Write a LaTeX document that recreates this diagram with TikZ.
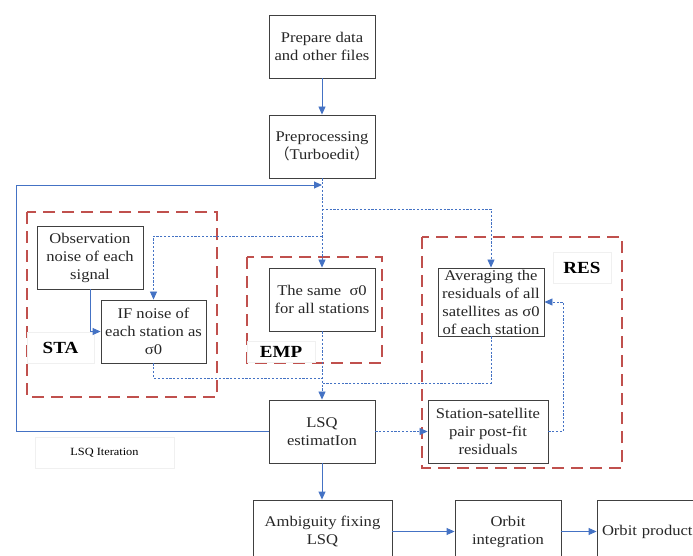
\documentclass[tikz,border=0pt]{standalone}
\usepackage{fontspec}
\setmainfont{Liberation Serif}[FakeStretch=1.12]
\newfontfamily\cjk{Noto Sans CJK SC}
\usetikzlibrary{arrows.meta}
\definecolor{lblue}{RGB}{68,114,196}
\definecolor{dred}{RGB}{192,80,77}
\definecolor{bgray}{RGB}{64,64,64}
\definecolor{tgray}{RGB}{38,38,38}
\begin{document}
\begin{tikzpicture}[x=1pt,y=-1pt,
 box/.style={draw=bgray,line width=0.9pt,inner sep=0pt,align=center,font=\fontsize{14.8}{18}\selectfont,text=tgray},
 solidarrow/.style={draw=lblue,line width=0.9pt,-{Triangle[length=8pt,width=7pt]}},
 dotarrow/.style={draw=lblue,line width=0.8pt,dash pattern=on 2.2pt off 1.6pt,-{Triangle[length=8pt,width=7pt]}},
 dotline/.style={draw=lblue,line width=0.8pt,dash pattern=on 2.2pt off 1.6pt},
 region/.style={draw=dred,line width=2.6pt,dash pattern=on 12pt off 7pt},
 tag/.style={fill=white,draw=gray!12,line width=0.4pt,inner sep=0pt,font=\fontsize{17}{20}\selectfont\bfseries,text=black}
]
\useasboundingbox (0,0) rectangle (693,556);
\clip (0,0) rectangle (693,556);

% regions
\draw[region] (27,212) rectangle (217,397);
\draw[region] (247,257) rectangle (382,363);
\draw[region] (422,237) rectangle (622,468);

% boxes
\node[box,minimum width=106pt,minimum height=63pt] (prep) at (322,46.5) {Prepare data\\and other files};
\node[box,minimum width=106pt,minimum height=63pt] (pre) at (322,146.5) {Preprocessing\\{\cjk （}Turboedit{\cjk ）}};
\node[box,minimum width=106pt,minimum height=63pt] (obs) at (90,257.5) {Observation\\noise of each\\signal};
\node[box,minimum width=105pt,minimum height=63pt] (ifn) at (153.5,331.5) {IF noise of\\each station as\\σ0};
\node[box,minimum width=106pt,minimum height=63pt] (same) at (322,299.5) {The same \ σ0\\for all stations};
\node[box,minimum width=106pt,minimum height=68pt] (avg) at (491,302) {Averaging the\\residuals of all\\satellites as σ0\\of each station};
\node[box,minimum width=106pt,minimum height=63pt] (lsq) at (322,431.5) {LSQ\\estimatIon};
\node[box,minimum width=120pt,minimum height=63pt] (sts) at (488,431.5) {Station-satellite\\pair post-fit\\residuals};
\node[box,minimum width=139pt,minimum height=63pt] (amb) at (322.5,531.5) {Ambiguity fixing\\LSQ};
\node[box,minimum width=106pt,minimum height=63pt] (orb) at (508,531.5) {Orbit\\integration};
\node[box,minimum width=106pt,minimum height=63pt,text width=96pt,align=left] (prod) at (650,531.5) {Orbit product};

% tags
\node[tag,minimum width=67pt,minimum height=31pt] (tsta) at (60.5,347.5) {STA};
\node[tag,minimum width=68pt,minimum height=21pt] (temp) at (281,351.5) {EMP};
\node[tag,minimum width=58pt,minimum height=31pt] (tres) at (582,267.5) {RES};
\node[tag,minimum width=139pt,minimum height=31pt,font=\fontsize{11}{13}\selectfont] (tlsq) at (104.5,452.5) {LSQ Iteration};

% coordinates
\coordinate (lpBL) at (16,431.5);
\coordinate (lpTL) at (16,185);
\coordinate (lpT) at (322,185);
\coordinate (br1) at (322,209);
\coordinate (br2) at (322,236);
\coordinate (j1) at (322,378);
\coordinate (j2) at (322,383);
\coordinate (rr) at (563,302);

% solid connectors
\draw[solidarrow] (prep.south) -- (pre.north);
\draw[solidarrow] (lsq.west) -- (lpBL) -- (lpTL) -- (lpT);
\draw[solidarrow] (obs.south) |- (ifn.west);
\draw[solidarrow] (lsq.south) -- (lsq.south |- amb.north);
\draw[solidarrow] (amb.east) -- (orb.west);
\draw[solidarrow] (orb.east) -- (prod.west);

% dotted connectors
\draw[dotarrow] (pre.south) -- (same.north);
\draw[dotarrow] (br1) -| (avg.north);
\draw[dotarrow] (br2) -| (ifn.north);
\draw[dotline] (ifn.south) |- (j1);
\draw[dotline] (avg.south) |- (j2);
\draw[dotarrow] (same.south) -- (lsq.north);
\draw[dotarrow] (lsq.east) -- (sts.west);
\draw[dotarrow] (sts.east) -| (rr) -- (avg.east);
\end{tikzpicture}
\end{document}
